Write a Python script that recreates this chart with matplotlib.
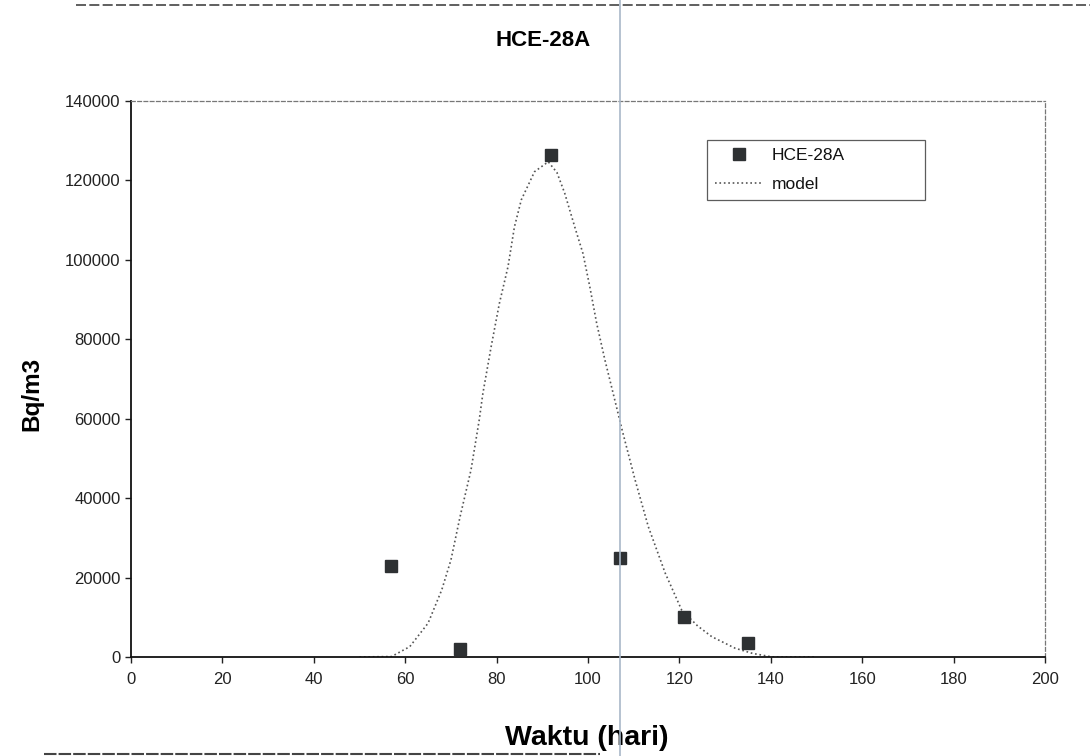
import matplotlib
matplotlib.use('Agg')
import matplotlib.pyplot as plt
from matplotlib.lines import Line2D

plt.rcParams['font.family'] = ['Liberation Sans', 'DejaVu Sans']

# measured points HCE-28A (hari, Bq/m3)
obs_x = [57, 72, 92, 107, 121, 135]
obs_y = [23000, 2000, 126500, 25000, 10000, 3500]

# model curve
model_x = [50, 57, 61, 65, 68, 70, 72, 74.4, 76.2, 77, 78.8, 80.6, 82.5, 83.9, 85.4, 88.3,
           91.3, 93.2, 94.9, 97.1, 98.9, 100.4, 101.9, 103.7, 105.5, 107.5, 110.3, 113.2,
           116.9, 120.5, 124, 127.1, 132.2, 136, 140.3, 150]
model_y = [0, 100, 2600, 8500, 16900, 24400, 35300, 47100, 59700, 66400, 78100, 89000,
           98300, 108300, 115100, 122200, 124700, 122000, 116800, 108300, 101600, 93200,
           84000, 74800, 66400, 57000, 44600, 32800, 21100, 11800, 7800, 5100, 2200, 900,
           0, 0]

fig = plt.figure(figsize=(10.9, 7.56), dpi=100)
ax = fig.add_axes([0.1202, 0.131, 0.8385, 0.7354])

ax.plot(model_x, model_y, linestyle=':', color='#555555', linewidth=1.2, label='model', zorder=2)
ax.plot(obs_x, obs_y, linestyle='none', marker='s', markersize=9, color='#2e3133',
        label='HCE-28A', zorder=3)

ax.set_xlim(0, 200)
ax.set_ylim(0, 140000)
ax.set_xticks(range(0, 201, 20))
ax.set_yticks(range(0, 140001, 20000))
ax.tick_params(axis='both', labelsize=12, direction='out', length=4, width=1, colors='#222222')
ax.tick_params(axis='x', pad=7)

for s in ['left', 'bottom']:
    ax.spines[s].set_color('#111111')
    ax.spines[s].set_linewidth(1.3)
for s in ['top', 'right']:
    ax.spines[s].set_color('#777777')
    ax.spines[s].set_linewidth(0.9)
    ax.spines[s].set_linestyle((0, (3, 2)))

ax.set_xlabel('Waktu (hari)', fontsize=20.5, fontweight='bold', va='top')
ax.xaxis.set_label_coords(0.499, -0.123)
ax.set_ylabel('Bq/m3', fontsize=17.5, fontweight='bold')
ax.yaxis.set_label_coords(-0.096, 0.473)
fig.text(0.498, 0.947, 'HCE-28A', fontsize=16, fontweight='bold', ha='center', va='center')

handles, labels = ax.get_legend_handles_labels()
leg = ax.legend(handles[::-1], labels[::-1], loc='upper left',
                bbox_to_anchor=(0.63, 0.80, 0.2385, 0.13), mode='expand',
                fontsize=12.5, frameon=True, fancybox=False, borderpad=0.45,
                handlelength=2.8, handletextpad=0.5, labelspacing=0.8, borderaxespad=0)
leg.get_frame().set_edgecolor('#333333')
leg.get_frame().set_linewidth(0.9)
for t in leg.get_texts():
    t.set_color('#111111')

# outer chart frame and scan fold line
fig.add_artist(Line2D([0.07, 1.0], [0.994, 0.994], color='#444444', linewidth=1.2,
                      linestyle=(0, (6, 2))))
fig.add_artist(Line2D([0.04, 0.55], [0.003, 0.003], color='#444444', linewidth=1.5,
                      linestyle=(0, (6, 1))))
fig.add_artist(Line2D([0.569, 0.569], [0.0, 1.0], color='#a9b8c8', linewidth=1.2))

fig.savefig('out.png', dpi=100, facecolor='white')
